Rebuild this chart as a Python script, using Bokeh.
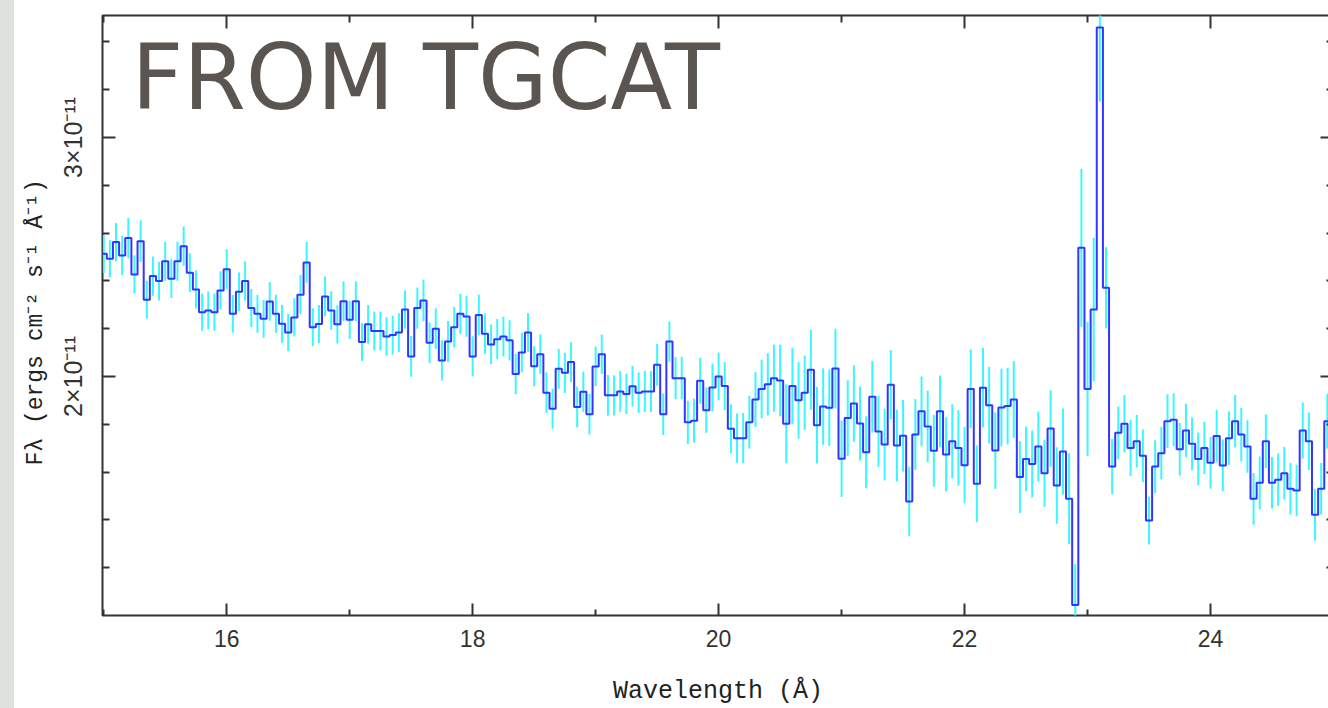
import numpy as np
from bokeh.plotting import figure
from bokeh.models import Range1d, LinearAxis, FixedTicker, Label, Spacer
from bokeh.layouts import row
from bokeh.embed import file_html
from bokeh.resources import INLINE

# ---- data (flux in units of 1e-11 ergs cm^-2 s^-1 A^-1), bins of 0.05 A starting at 15.0 A
BIN_START = 15.0
BIN_WIDTH = 0.05
FLUX_E11 = [
    2.513, 2.492, 2.562, 2.506, 2.579, 2.427, 2.566, 2.321, 2.420, 2.399,
    2.482, 2.409, 2.482, 2.545, 2.434, 2.364, 2.269, 2.276, 2.269, 2.360,
    2.449, 2.262, 2.354, 2.399, 2.286, 2.262, 2.241, 2.314, 2.262, 2.220,
    2.184, 2.247, 2.342, 2.477, 2.206, 2.219, 2.335, 2.276, 2.218, 2.315,
    2.237, 2.315, 2.144, 2.218, 2.190, 2.190, 2.167, 2.173, 2.184, 2.280,
    2.084, 2.286, 2.318, 2.141, 2.200, 2.067, 2.146, 2.206, 2.262, 2.251,
    2.084, 2.257, 2.179, 2.134, 2.156, 2.167, 2.151, 2.010, 2.100, 2.184,
    2.043, 2.093, 1.932, 1.865, 2.032, 2.015, 2.060, 1.872, 1.936, 1.842,
    2.042, 2.093, 1.921, 1.921, 1.937, 1.927, 1.959, 1.932, 1.937, 1.937,
    2.049, 1.842, 2.146, 1.993, 1.993, 1.808, 1.815, 1.982, 1.859, 1.954,
    2.000, 1.960, 1.781, 1.742, 1.742, 1.808, 1.904, 1.948, 1.967, 1.993,
    1.983, 1.802, 1.960, 1.900, 1.932, 2.028, 1.796, 1.874, 1.869, 2.033,
    1.656, 1.826, 1.887, 1.803, 1.683, 1.915, 1.770, 1.715, 1.965, 1.711,
    1.752, 1.477, 1.757, 1.854, 1.791, 1.689, 1.854, 1.674, 1.729, 1.701,
    1.629, 1.948, 1.551, 1.953, 1.880, 1.690, 1.870, 1.876, 1.904, 1.579,
    1.655, 1.634, 1.707, 1.595, 1.782, 1.544, 1.686, 1.488, 1.044, 2.538,
    1.948, 2.280, 3.460, 2.371, 1.623, 1.764, 1.802, 1.701, 1.729, 1.668,
    1.397, 1.623, 1.679, 1.813, 1.819, 1.695, 1.774, 1.718, 1.655, 1.701,
    1.639, 1.751, 1.628, 1.742, 1.813, 1.757, 1.707, 1.488, 1.555, 1.729,
    1.555, 1.568, 1.595, 1.530, 1.523, 1.774, 1.729, 1.421, 1.530, 1.813,
]
ERR_E11 = [
    0.080, 0.078, 0.080, 0.082, 0.084, 0.080, 0.087, 0.079, 0.082, 0.081,
    0.082, 0.081, 0.082, 0.082, 0.081, 0.080, 0.078, 0.079, 0.078, 0.080,
    0.083, 0.079, 0.081, 0.082, 0.080, 0.079, 0.079, 0.081, 0.080, 0.079,
    0.078, 0.080, 0.082, 0.085, 0.079, 0.080, 0.083, 0.081, 0.080, 0.083,
    0.080, 0.083, 0.079, 0.081, 0.081, 0.081, 0.080, 0.081, 0.081, 0.080,
    0.085, 0.086, 0.087, 0.085, 0.085, 0.084, 0.086, 0.085, 0.084, 0.085,
    0.084, 0.085, 0.084, 0.083, 0.084, 0.083, 0.084, 0.084, 0.083, 0.081,
    0.084, 0.083, 0.085, 0.084, 0.083, 0.084, 0.083, 0.085, 0.084, 0.085,
    0.083, 0.082, 0.085, 0.084, 0.085, 0.084, 0.085, 0.085, 0.086, 0.086,
    0.087, 0.087, 0.084, 0.088, 0.089, 0.090, 0.092, 0.096, 0.095, 0.100,
    0.100, 0.100, 0.102, 0.103, 0.105, 0.110, 0.115, 0.122, 0.130, 0.140,
    0.150, 0.165, 0.160, 0.160, 0.155, 0.167, 0.160, 0.160, 0.160, 0.167,
    0.160, 0.158, 0.160, 0.155, 0.150, 0.150, 0.148, 0.150, 0.145, 0.150,
    0.150, 0.145, 0.148, 0.146, 0.150, 0.150, 0.150, 0.155, 0.155, 0.158,
    0.160, 0.165, 0.160, 0.166, 0.160, 0.160, 0.162, 0.160, 0.160, 0.150,
    0.135, 0.140, 0.146, 0.140, 0.160, 0.160, 0.180, 0.190, 0.170, 0.330,
    0.280, 0.300, 0.310, 0.170, 0.115, 0.110, 0.120, 0.117, 0.110, 0.110,
    0.100, 0.110, 0.110, 0.112, 0.110, 0.110, 0.112, 0.110, 0.110, 0.110,
    0.108, 0.110, 0.108, 0.112, 0.110, 0.112, 0.110, 0.108, 0.110, 0.112,
    0.108, 0.110, 0.110, 0.108, 0.108, 0.117, 0.120, 0.108, 0.108, 0.115,
]
X_TICKS = [16, 18, 20, 22, 24]
X_MINOR = [15, 17, 19, 21, 23, 25]
Y_TICKS = [2e-11, 3e-11]
Y_TICK_LABELS = ["2×10⁻¹¹", "3×10⁻¹¹"]
Y_MINOR = [1.2e-11, 1.4e-11, 1.6e-11, 1.8e-11, 2.2e-11, 2.4e-11,
           2.6e-11, 2.8e-11, 3.2e-11, 3.4e-11]
TITLE_TEXT = "FROM TGCAT"

flux = np.array(FLUX_E11) * 1e-11
err = np.array(ERR_E11) * 1e-11
centers = BIN_START + BIN_WIDTH * np.arange(len(flux))
step_x = np.append(centers - BIN_WIDTH / 2, centers[-1] + BIN_WIDTH / 2)
step_y = np.append(flux, flux[-1])

AX_COLOR = "#333333"

p = figure(frame_width=1231, frame_height=600,
           x_range=Range1d(14.99, 25.0), y_range=Range1d(1.0e-11, 3.51e-11),
           output_backend="svg", toolbar_location=None,
           min_border_left=88, min_border_right=0, min_border_top=15, min_border_bottom=93,
           background_fill_color="white", border_fill_color="white")
p.outline_line_color = AX_COLOR
p.outline_line_width = 2
p.xgrid.visible = False
p.ygrid.visible = False

def style_axis(ax, ticker, major_in, minor_in):
    ax.ticker = ticker
    ax.axis_line_color = None
    ax.major_tick_in = major_in
    ax.major_tick_out = 0
    ax.minor_tick_in = minor_in
    ax.minor_tick_out = 0
    ax.major_tick_line_color = AX_COLOR
    ax.minor_tick_line_color = AX_COLOR
    ax.major_tick_line_width = 2
    ax.minor_tick_line_width = 2

# bottom axis
xa = p.xaxis[0]
style_axis(xa, FixedTicker(ticks=X_TICKS, minor_ticks=X_MINOR), 12, 6)
xa.major_label_text_font = "Liberation Sans"
xa.major_label_text_font_size = "23px"
xa.major_label_text_color = "#333333"
xa.major_label_standoff = 14
xa.axis_label = "Wavelength (Å)"
xa.axis_label_text_font = "Liberation Mono"
xa.axis_label_text_font_size = "25px"
xa.axis_label_text_font_style = "normal"
xa.axis_label_text_color = "#222222"
xa.axis_label_standoff = 27

# left axis
ya = p.yaxis[0]
style_axis(ya, FixedTicker(ticks=Y_TICKS, minor_ticks=Y_MINOR), 13, 7)
ya.major_label_overrides = dict(zip(Y_TICKS, Y_TICK_LABELS))
ya.major_label_orientation = "vertical"
ya.major_label_text_font = "Liberation Sans"
ya.major_label_text_font_size = "25px"
ya.major_label_text_color = "#333333"
ya.major_label_standoff = 15
ya.axis_label = "Fλ  (ergs cm⁻² s⁻¹ Å⁻¹)"
ya.axis_label_text_font = "Liberation Mono"
ya.axis_label_text_font_size = "23px"
ya.axis_label_text_font_style = "normal"
ya.axis_label_text_color = "#222222"
ya.axis_label_standoff = 8

# top and right axes (ticks only, labels not drawn)
def ticks_only(ax):
    ax.major_label_text_alpha = 0
    ax.major_label_text_font_size = "1px"
    ax.major_label_standoff = 0

top = LinearAxis()
style_axis(top, FixedTicker(ticks=X_TICKS, minor_ticks=X_MINOR), 13, 7)
ticks_only(top)
p.add_layout(top, "above")

right = LinearAxis()
style_axis(right, FixedTicker(ticks=Y_TICKS, minor_ticks=Y_MINOR), 13, 7)
ticks_only(right)
p.add_layout(right, "right")

# error bars and histogram steps
p.segment(x0=centers, y0=flux - err, x1=centers, y1=flux + err,
          line_color="#3af6ff", line_width=2)
p.step(x=step_x, y=step_y, mode="after", line_color="#3434ff", line_width=2)

p.add_layout(Label(x=15.226, y=3.251e-11, text=TITLE_TEXT,
                   text_font="DejaVu Sans", text_font_size="90px",
                   text_color="#5a5550", text_baseline="alphabetic"))

strip = Spacer(width=14, height=708, styles={"background-color": "#dfe1de"})
layout = row(strip, p)

html = file_html(layout, INLINE, title="TGCAT spectrum")
html = html.replace("<head>", "<head><style>html,body{margin:0;padding:0;overflow:hidden;background:#ffffff;}</style>", 1)
open("out.html", "w").write(html)
